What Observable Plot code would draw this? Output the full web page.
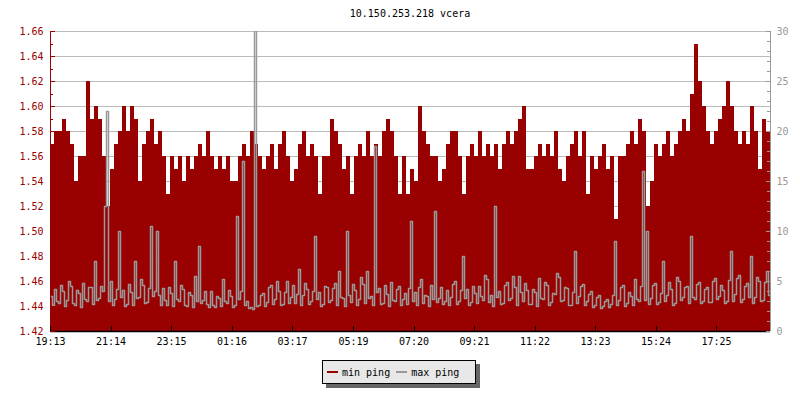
<!DOCTYPE html>
<html><head><meta charset="utf-8">
<script src="https://cdn.jsdelivr.net/npm/d3@7"></script>
<script src="https://cdn.jsdelivr.net/npm/@observablehq/plot@0.6"></script>
<style>
body{margin:0;background:#fff;font-family:"DejaVu Sans Mono",monospace;}
#wrap{position:relative;width:800px;height:400px;background:#fff;}
#title{position:absolute;left:50px;width:720px;top:8px;line-height:12px;text-align:center;font-size:10px;color:#000;}
#chart{position:absolute;left:0;top:22px;}
#legend{position:absolute;left:322px;top:360px;width:154px;height:24px;box-sizing:border-box;border:1px solid #000;background:#e8e8e8;box-shadow:4px 4px 0 #666;font-size:10px;display:flex;align-items:center;padding-left:4px;color:#000;}
.sw{display:inline-block;width:11px;height:2px;margin-right:4px;}
</style></head>
<body><div id="wrap"><div id="title"></div><div id="chart"></div><div id="legend"></div></div>
<script>
const chartTitle = "10.150.253.218 vcera";
const seriesNames = ["min ping", "max ping"];
const seriesColors = ["#990000", "#999999"];
const minStepMinutes = 8;
const maxStepMinutes = 4;
const spanMinutes = 1440;
const startLabel = "19:13";
const xTickLabels = ["19:13","21:14","23:15","01:16","03:17","05:19","07:20","09:21","11:22","13:23","15:24","17:25"];
const leftDomain = [1.42, 1.66];
const rightDomain = [0, 30];

// min ping (left axis), one value per 8-minute step
const minPing = [
1.57,1.58,1.58,1.59,1.58,1.57,1.54,1.56,1.56,1.62,
1.59,1.60,1.59,1.56,1.52,1.55,1.57,1.58,1.60,1.58,
1.60,1.59,1.54,1.57,1.58,1.59,1.57,1.58,1.56,1.53,
1.56,1.55,1.56,1.54,1.56,1.55,1.56,1.57,1.56,1.58,
1.56,1.55,1.56,1.55,1.56,1.54,1.54,1.56,1.57,1.56,
1.58,1.57,1.56,1.55,1.56,1.57,1.55,1.57,1.58,1.56,
1.54,1.55,1.57,1.58,1.56,1.57,1.56,1.53,1.56,1.56,
1.59,1.58,1.57,1.55,1.56,1.53,1.56,1.57,1.56,1.58,
1.56,1.57,1.56,1.58,1.59,1.58,1.56,1.53,1.56,1.53,
1.55,1.54,1.60,1.58,1.57,1.56,1.56,1.54,1.55,1.57,
1.58,1.58,1.56,1.53,1.56,1.57,1.56,1.58,1.56,1.57,
1.56,1.57,1.55,1.57,1.58,1.57,1.58,1.59,1.60,1.55,
1.55,1.56,1.57,1.56,1.57,1.56,1.58,1.55,1.54,1.56,
1.57,1.58,1.56,1.58,1.53,1.56,1.55,1.56,1.57,1.55,
1.56,1.51,1.56,1.56,1.57,1.58,1.57,1.59,1.58,1.52,
1.54,1.57,1.56,1.57,1.58,1.56,1.57,1.58,1.59,1.58,
1.61,1.65,1.62,1.60,1.58,1.57,1.58,1.59,1.60,1.62,
1.60,1.58,1.57,1.58,1.57,1.60,1.58,1.55,1.59,1.58
];

// max ping (right axis), one value per 4-minute step
const maxPing = [
3.5,2.6,4.2,3.0,2.8,4.6,4.0,2.5,3.1,5.0,4.5,2.8,2.6,4.1,3.8,2.4,4.8,3.2,3.0,4.4,
4.4,2.7,7.0,3.1,3.3,4.5,4.0,12.5,22.0,3.0,5.0,2.6,3.2,4.2,10.0,3.4,4.1,2.5,2.7,4.7,
3.9,2.6,7.0,3.3,3.4,5.2,4.6,2.8,2.9,4.3,10.5,3.5,4.0,10.0,3.6,2.6,4.3,3.1,2.6,4.4,
3.8,2.5,7.0,3.2,3.0,4.6,4.2,2.6,2.5,3.9,3.6,2.4,5.5,3.0,8.5,2.8,3.1,4.0,2.7,2.4,
4.0,2.6,2.4,3.5,3.3,2.5,5.2,3.0,2.8,4.1,3.5,2.4,2.6,11.5,3.2,4.0,17.0,2.6,3.0,2.3,
2.4,2.2,31.0,2.5,2.6,3.6,3.8,2.5,2.9,4.4,4.6,2.7,3.2,5.0,4.0,2.6,2.7,3.9,5.0,2.8,
3.4,4.6,2.8,3.7,6.2,2.6,3.6,4.8,4.2,2.7,3.0,4.0,9.5,3.2,3.9,2.5,2.7,4.5,4.4,2.9,
3.1,4.3,4.8,2.6,6.0,3.4,3.3,2.5,10.0,3.6,2.9,4.7,4.1,2.6,3.2,5.4,4.7,2.8,6.0,3.3,
3.5,2.6,18.5,3.9,4.3,2.7,2.8,4.6,3.7,2.5,4.9,3.1,3.0,4.2,4.5,2.6,3.2,3.8,2.7,4.3,
11.0,3.0,3.9,2.6,4.4,5.2,2.8,3.6,3.5,2.5,4.6,3.2,12.0,2.9,3.3,4.4,2.7,3.0,4.1,2.6,
3.4,4.7,5.0,2.7,3.0,4.1,7.5,3.3,4.2,2.6,2.9,4.5,3.8,2.8,4.5,3.5,3.1,5.6,5.2,2.9,
3.6,2.5,12.5,3.4,4.0,2.7,2.8,4.6,4.9,3.1,3.3,5.5,4.4,2.6,5.5,3.9,3.0,4.8,4.1,2.7,
2.7,4.2,3.9,2.5,5.3,3.3,3.2,4.9,4.6,2.6,2.9,3.8,3.7,5.8,5.4,3.0,3.1,4.4,4.3,2.6,
2.6,3.9,8.0,2.8,3.5,4.5,4.7,2.6,3.0,3.7,4.0,2.4,2.6,3.4,3.6,2.3,2.5,3.0,3.2,2.4,
2.7,3.6,9.0,2.6,3.1,4.4,4.6,2.5,2.8,3.9,3.5,2.6,5.2,3.2,3.0,4.5,16.0,3.1,10.0,2.7,
3.3,4.6,4.8,2.7,2.9,3.8,7.0,3.0,3.6,4.9,4.2,2.6,2.8,5.4,5.0,3.1,3.4,4.4,4.5,2.8,
9.5,3.4,3.2,4.7,4.9,2.8,3.0,4.2,4.4,2.9,2.9,5.0,5.3,3.2,3.5,4.6,4.1,2.8,3.0,5.1,
8.0,3.0,3.7,5.3,5.6,2.9,3.2,4.5,4.8,3.4,7.5,2.8,3.4,5.4,5.0,3.0,3.1,4.9,6.0,3.6
];

const red = seriesColors[0], grey = seriesColors[1];
// map a right-axis value into the left scale's domain
const toLeft = v => leftDomain[0] + (v - rightDomain[0]) / (rightDomain[1] - rightDomain[0]) * (leftDomain[1] - leftDomain[0]);
const fromLeft = y => rightDomain[0] + (y - leftDomain[0]) / (leftDomain[1] - leftDomain[0]) * (rightDomain[1] - rightDomain[0]);

const minTable = minPing.map((v, i) => ({t: i * minStepMinutes, v}));
minTable.push({t: spanMinutes, v: minPing[minPing.length - 1]});
const maxTable = maxPing.map((v, i) => ({t: i * maxStepMinutes, v: toLeft(v)}));
maxTable.push({t: spanMinutes, v: toLeft(maxPing[maxPing.length - 1])});

const toMin = s => { const [h, m] = s.split(":").map(Number); return h * 60 + m; };
const start = toMin(startLabel);
const xTickPos = xTickLabels.map(s => (toMin(s) - start + 1440) % 1440);
const labelByPos = new Map(xTickPos.map((p, i) => [p, xTickLabels[i]]));

const leftMajor = d3.range(0, 13).map(k => +(leftDomain[0] + k * 0.02).toFixed(2));
const leftMinor = d3.range(0, 25).map(k => +(leftDomain[0] + k * 0.01).toFixed(2)).filter(v => !leftMajor.includes(v));
const rightMajor = d3.range(0, 31, 5).map(toLeft);
const rightMinor = d3.range(0, 31).filter(v => v % 5 !== 0).map(toLeft);

const W = 800, ML = 50, MR = 30, PW = W - ML - MR;
const crisp = {shapeRendering: "crispEdges"};
const chart = Plot.plot({
  width: W, height: 329,
  marginTop: 9, marginBottom: 20, marginLeft: ML, marginRight: MR,
  x: {domain: [0, spanMinutes]},
  y: {domain: leftDomain},
  style: {fontFamily: "'DejaVu Sans Mono', monospace", fontSize: "10px", background: "white", overflow: "visible"},
  marks: [
    Plot.gridY(leftMajor, {stroke: "#bbbbbb", strokeOpacity: 1, ...crisp}),
    Plot.area(minTable, {x1: "t", y1: () => leftDomain[0], y2: "v", curve: "step-after", fill: red, ...crisp}),
    Plot.line(maxTable, {x: "t", y: "v", curve: "step-after", stroke: grey, strokeWidth: 1.5, clip: true}),
    Plot.ruleX([0], {stroke: red, ...crisp}),
    Plot.ruleX([spanMinutes], {stroke: grey, ...crisp}),
    Plot.ruleY([leftDomain[0]], {stroke: "black", strokeWidth: 1.5}),
    Plot.tickY(leftMajor, {stroke: red, insetRight: PW - 5, ...crisp}),
    Plot.tickY(leftMinor, {stroke: red, insetRight: PW - 3, ...crisp}),
    Plot.tickY(rightMajor, {stroke: grey, insetLeft: PW - 4, ...crisp}),
    Plot.tickY(rightMinor, {stroke: grey, insetLeft: PW - 3, ...crisp}),
    Plot.tickX(xTickPos, {stroke: "black", insetTop: 300 - 5, ...crisp}),
    Plot.axisY(leftMajor, {anchor: "left", tickSize: 0, tickPadding: 7, fill: red, label: null, tickFormat: d => d.toFixed(2)}),
    Plot.axisY(rightMajor, {anchor: "right", tickSize: 0, tickPadding: 6, fill: grey, label: null, tickFormat: d => String(Math.round(fromLeft(d)))}),
    Plot.axisX(xTickPos, {anchor: "bottom", tickSize: 0, tickPadding: 6, fill: "black", label: null, tickFormat: d => labelByPos.get(d)})
  ]
});
document.getElementById("chart").appendChild(chart);
document.getElementById("title").textContent = chartTitle;
const lg = document.getElementById("legend");
seriesNames.forEach((n, i) => {
  const sw = document.createElement("span");
  sw.className = "sw"; sw.style.background = seriesColors[i];
  if (i > 0) sw.style.marginLeft = "6px";
  const tx = document.createElement("span");
  tx.textContent = n;
  lg.appendChild(sw); lg.appendChild(tx);
});
</script>
</body></html>
